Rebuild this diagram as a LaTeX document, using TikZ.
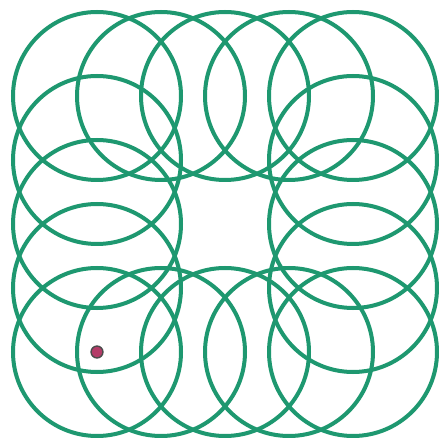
\documentclass[tikz,border=0pt]{standalone}
\definecolor{ringgreen}{RGB}{30,152,112}
\definecolor{dotred}{RGB}{180,60,104}
\begin{document}
\begin{tikzpicture}[x=1pt,y=-1pt]
        \def\r{84}
        \useasboundingbox (0,0) rectangle (439,438);
        \fill[white] (0,0) rectangle (439,438);

        % top row
        \draw[ringgreen,line width=4pt] (97,96) circle (\r);
        \draw[ringgreen,line width=4pt] (161,96) circle (\r);
        \draw[ringgreen,line width=4pt] (225,96) circle (\r);
        \draw[ringgreen,line width=4pt] (289,96) circle (\r);
        \draw[ringgreen,line width=4pt] (353,96) circle (\r);
        % left and right columns
        \draw[ringgreen,line width=4pt] (97,160) circle (\r);
        \draw[ringgreen,line width=4pt] (97,224) circle (\r);
        \draw[ringgreen,line width=4pt] (97,288) circle (\r);
        \draw[ringgreen,line width=4pt] (353,160) circle (\r);
        \draw[ringgreen,line width=4pt] (353,224) circle (\r);
        \draw[ringgreen,line width=4pt] (353,288) circle (\r);
        % bottom row
        \draw[ringgreen,line width=4pt] (97,352) circle (\r);
        \draw[ringgreen,line width=4pt] (161,352) circle (\r);
        \draw[ringgreen,line width=4pt] (225,352) circle (\r);
        \draw[ringgreen,line width=4pt] (289,352) circle (\r);
        \draw[ringgreen,line width=4pt] (353,352) circle (\r);

        \node (dot) at (97,352) [circle,fill=dotred,draw=black!70,line width=1.4pt,inner sep=4.2pt]{};
      \end{tikzpicture}
\end{document}
